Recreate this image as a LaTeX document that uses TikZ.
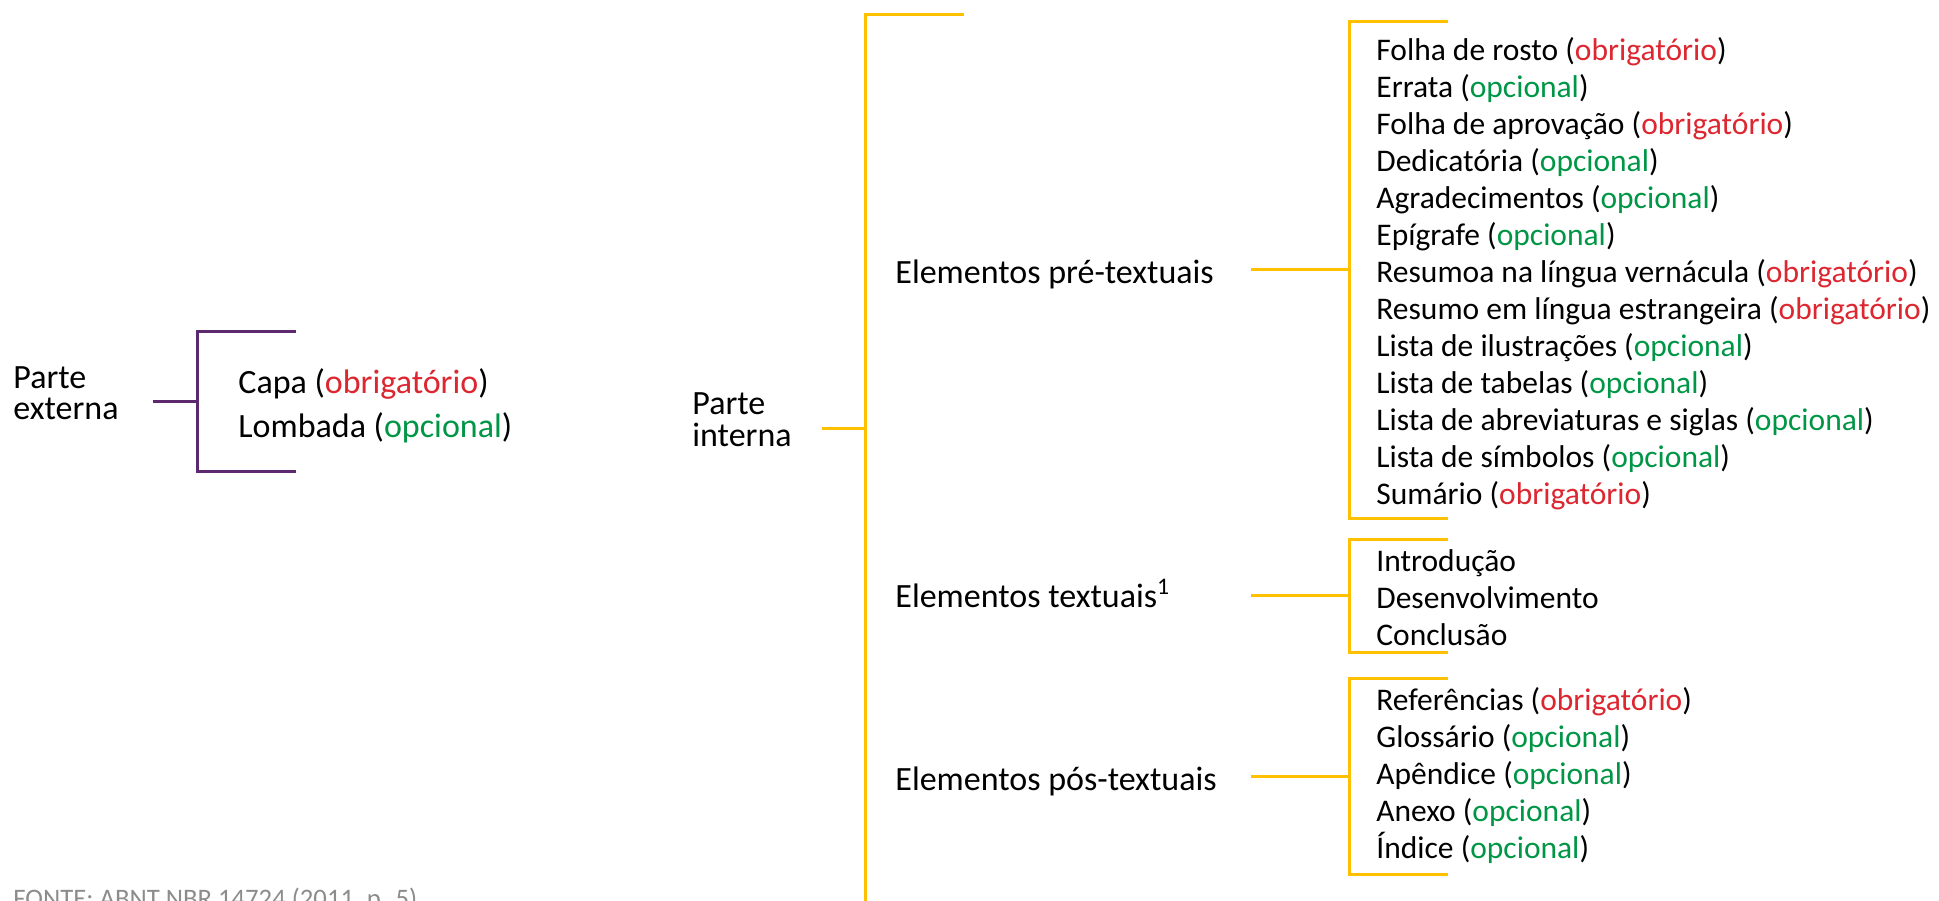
\documentclass[tikz,border=0pt]{standalone}
\usepackage{fontspec}
\setmainfont{Carlito}
\definecolor{braceViolet}{RGB}{92,40,110}
\definecolor{braceGold}{RGB}{255,192,0}
\definecolor{obrigRed}{RGB}{220,38,48}
\definecolor{opcGreen}{RGB}{0,150,70}
\definecolor{sourceGray}{RGB}{140,140,140}
\newcommand{\obrig}{(\textcolor{obrigRed}{obrigatório})}
\newcommand{\opc}{(\textcolor{opcGreen}{opcional})}
\newcommand{\twolines}[2]{\begin{tabular}[t]{@{}l@{}}#1\\#2\end{tabular}}

\begin{document}
\begin{tikzpicture}
[x=0.5pt,y=-0.5pt,
  violetLine/.style={draw=braceViolet,line width=1.5pt},%
  goldLine/.style={draw=braceGold,line width=1.5pt},%
  headText/.style={anchor=base west,inner sep=0pt,font=\fontsize{17}{15.5}\selectfont},%
  itemText/.style={anchor=base west,inner sep=0pt,font=\fontsize{15.75}{18.5}\selectfont}]
\useasboundingbox (0,0) rectangle (1939,900);
%% parte externa
\node (externa) at (13,388) [headText] {\twolines{Parte}{externa}};
\node (capa) at (238,393) [headText] {Capa \obrig};
\node (lombada) at (238,437) [headText] {Lombada \opc};
\coordinate (ext-a) at (296,331);
\coordinate (ext-b) at (197,331);
\coordinate (ext-c) at (197,471);
\coordinate (ext-d) at (296,471);
\coordinate (ext-mid) at (197,401);
\coordinate (ext-stem) at (153,401);
\draw[violetLine] (ext-a) -- (ext-b) -- (ext-c) -- (ext-d);
\draw[violetLine] (ext-stem) -- (ext-mid);
%% parte interna
\node (interna) at (692,414) [headText] {\twolines{Parte}{interna}};
\coordinate (int-a) at (964,14);
\coordinate (int-b) at (865,14);
\coordinate (int-c) at (865,912);
\coordinate (int-mid) at (865,428);
\coordinate (int-stem) at (822,428);
\draw[goldLine] (int-a) -- (int-b) -- (int-c);
\draw[goldLine] (int-stem) -- (int-mid);
%% groups of elements
\foreach \br/\txt/\base/\top/\bot in {pre/Elementos pré-textuais/283/21/518,
  tex/Elementos textuais\textsuperscript{1}/607/539/652,
  pos/Elementos pós-textuais/790/678/874}
{
  \node (\br Label) at (895,\base) [headText] {\txt};
  \coordinate (\br-a) at (1448,\top);
  \coordinate (\br-b) at (1349,\top);
  \coordinate (\br-c) at (1349,\bot);
  \coordinate (\br-d) at (1448,\bot);
  \coordinate (\br-mid) at (1349,{(\top+\bot)/2});
  \coordinate (\br-stem) at (1251,{(\top+\bot)/2});
  \draw[goldLine] (\br-a) -- (\br-b) -- (\br-c) -- (\br-d);
  \draw[goldLine] (\br-stem) -- (\br-mid);
}
%% items
\foreach \txt [count=\k from 0] in {Folha de rosto \obrig, Errata \opc,
  Folha de aprovação \obrig, Dedicatória \opc, Agradecimentos \opc,
  Epígrafe \opc, Resumoa na língua vernácula \obrig,
  Resumo em língua estrangeira \obrig, Lista de ilustrações \opc,
  Lista de tabelas \opc, Lista de abreviaturas e siglas \opc,
  Lista de símbolos \opc, Sumário \obrig}
{
  \node (preItem\k) at (1376,{60+37*\k}) [itemText] {\txt};
}
\foreach \txt [count=\k from 0] in {Introdução, Desenvolvimento, Conclusão}
{
  \node (texItem\k) at (1376,{571+37*\k}) [itemText] {\txt};
}
\foreach \txt [count=\k from 0] in {Referências \obrig, Glossário \opc,
  Apêndice \opc, Anexo \opc, Índice \opc}
{
  \node (posItem\k) at (1376,{710+37*\k}) [itemText] {\txt};
}
%% source
\node (fonte) at (13,907) [anchor=base west,inner sep=0pt,
  font=\fontsize{13.35}{16}\selectfont,text=sourceGray] {FONTE: ABNT NBR 14724 (2011, p. 5)};
\end{tikzpicture}
\end{document}
